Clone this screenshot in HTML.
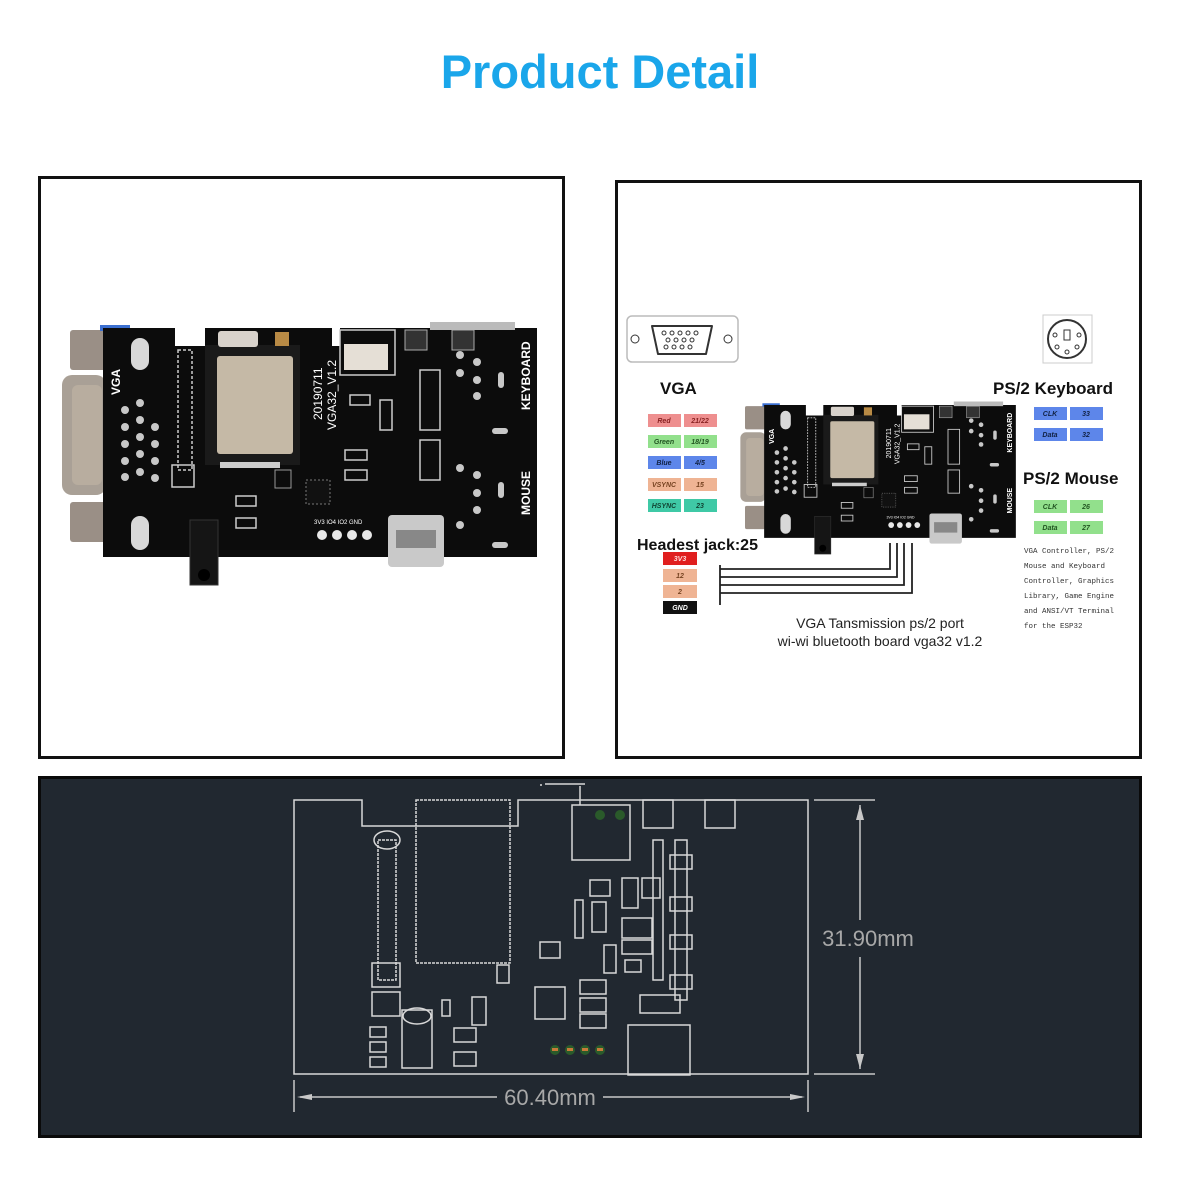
<!DOCTYPE html>
<html><head><meta charset="utf-8"><style>
html,body{margin:0;padding:0;background:#fff;}
svg{display:block}
text{font-family:"Liberation Sans",sans-serif}
text.mono{font-family:"Liberation Mono",monospace}
</style></head><body>
<svg width="1200" height="1200" viewBox="0 0 1200 1200" xmlns="http://www.w3.org/2000/svg">
<defs>
<g id="board">
  <rect x="70" y="330" width="36" height="40" fill="#9a8f86" rx="3"/>
  <rect x="62" y="375" width="44" height="120" fill="#a9a096" rx="10"/>
  <rect x="72" y="385" width="30" height="100" fill="#b8ad9f" rx="6"/>
  <rect x="70" y="502" width="36" height="40" fill="#9a8f86" rx="3"/>
  <rect x="100" y="325" width="30" height="6" fill="#3b6fd0"/>
  <path d="M103 328 H175 V346 H205 V328 H332 V346 H340 V328 H537 V557 H103 Z" fill="#0c0c0c"/>
  <rect x="131" y="338" width="18" height="32" rx="9" fill="#d8d8d8"/>
  <rect x="131" y="516" width="18" height="34" rx="9" fill="#d8d8d8"/>
  <g fill="#c8c8c8">
    <circle cx="125" cy="410" r="4"/><circle cx="140" cy="403" r="4"/><circle cx="125" cy="427" r="4"/><circle cx="140" cy="420" r="4"/><circle cx="155" cy="427" r="4"/>
    <circle cx="125" cy="444" r="4"/><circle cx="140" cy="437" r="4"/><circle cx="155" cy="444" r="4"/><circle cx="125" cy="461" r="4"/><circle cx="140" cy="454" r="4"/><circle cx="155" cy="461" r="4"/><circle cx="125" cy="477" r="4"/><circle cx="140" cy="472" r="4"/><circle cx="155" cy="478" r="4"/>
  </g>
  <text x="120" y="395" font-size="12" font-weight="bold" fill="#fff" transform="rotate(-90 120 395)">VGA</text>
  <rect x="178" y="350" width="14" height="120" fill="none" stroke="#ccc" stroke-width="1.5" stroke-dasharray="3 2"/>
  <rect x="172" y="465" width="22" height="22" fill="none" stroke="#ccc" stroke-width="1.5"/>
  <rect x="205" y="345" width="95" height="120" fill="#1a1a1a"/>
  <rect x="217" y="356" width="76" height="98" fill="#c5b9a6" rx="3"/>
  <rect x="220" y="462" width="60" height="6" fill="#ccc"/>
  <rect x="218" y="331" width="40" height="16" fill="#d8d2cb" rx="3"/>
  <rect x="275" y="332" width="14" height="14" fill="#b88a45"/>
  <text x="322" y="420" font-size="12" fill="#fff" transform="rotate(-90 322 420)">20190711</text>
  <text x="336" y="430" font-size="12" fill="#fff" transform="rotate(-90 336 430)">VGA32_V1.2</text>
  <rect x="340" y="330" width="55" height="45" fill="none" stroke="#ccc" stroke-width="1.5"/>
  <rect x="344" y="344" width="44" height="26" fill="#e5dfd6"/>
  <rect x="405" y="330" width="22" height="20" fill="#333" stroke="#aaa"/>
  <rect x="452" y="330" width="22" height="20" fill="#333" stroke="#aaa"/>
  <rect x="430" y="322" width="85" height="8" fill="#bbb"/>
  <rect x="306" y="480" width="24" height="24" fill="#111" stroke="#777" stroke-dasharray="2 2"/>
  <rect x="275" y="470" width="16" height="18" fill="none" stroke="#999"/>
  <g fill="none" stroke="#ccc" stroke-width="1.5">
    <rect x="350" y="395" width="20" height="10"/><rect x="345" y="450" width="22" height="10"/><rect x="345" y="470" width="22" height="10"/>
    <rect x="380" y="400" width="12" height="30"/><rect x="420" y="370" width="20" height="60"/><rect x="420" y="440" width="20" height="40"/>
    <rect x="236" y="496" width="20" height="10"/><rect x="236" y="518" width="20" height="10"/>
  </g>
  <g fill="#c8c8c8">
    <circle cx="460" cy="355" r="4"/><circle cx="477" cy="362" r="4"/><circle cx="460" cy="373" r="4"/><circle cx="477" cy="380" r="4"/><circle cx="477" cy="396" r="4"/>
    <circle cx="460" cy="468" r="4"/><circle cx="477" cy="475" r="4"/><circle cx="477" cy="493" r="4"/><circle cx="477" cy="510" r="4"/><circle cx="460" cy="525" r="4"/>
    <rect x="498" y="372" width="6" height="16" rx="3"/><rect x="498" y="482" width="6" height="16" rx="3"/>
    <rect x="492" y="428" width="16" height="6" rx="3"/><rect x="492" y="542" width="16" height="6" rx="3"/>
  </g>
  <text x="530" y="410" font-size="12" font-weight="bold" fill="#fff" transform="rotate(-90 530 410)">KEYBOARD</text>
  <text x="530" y="515" font-size="12" font-weight="bold" fill="#fff" transform="rotate(-90 530 515)">MOUSE</text>
  <text x="314" y="524" font-size="6" fill="#fff">3V3 IO4 IO2 GND</text>
  <g fill="#e8e8e8"><circle cx="322" cy="535" r="5"/><circle cx="337" cy="535" r="5"/><circle cx="352" cy="535" r="5"/><circle cx="367" cy="535" r="5"/></g>
  <rect x="190" y="520" width="28" height="65" fill="#151515" stroke="#333"/>
  <circle cx="204" cy="575" r="6" fill="#000"/>
  <rect x="388" y="515" width="56" height="52" fill="#c9c9c9" rx="4"/>
  <rect x="396" y="530" width="40" height="18" fill="#888"/>
</g>
</defs>

<text x="600" y="88" text-anchor="middle" font-size="47" font-weight="bold" fill="#1aa6ea">Product Detail</text>

<rect x="39.5" y="177.5" width="524" height="580" fill="#fff" stroke="#111" stroke-width="3"/>
<use href="#board"/>

<rect x="616.5" y="181.5" width="524" height="576" fill="#fff" stroke="#111" stroke-width="3"/>
<rect x="627" y="316" width="111" height="46" rx="5" fill="#fff" stroke="#bbb" stroke-width="1.5"/>
<circle cx="635" cy="339" r="4" fill="none" stroke="#333"/><circle cx="728" cy="339" r="4" fill="none" stroke="#333"/>
<path d="M652 326 H712 L706 354 H658 Z" fill="none" stroke="#333" stroke-width="2" stroke-linejoin="round"/>
<g fill="none" stroke="#333"><circle cx="664" cy="333" r="2"/><circle cx="672" cy="333" r="2"/><circle cx="680" cy="333" r="2"/><circle cx="688" cy="333" r="2"/><circle cx="696" cy="333" r="2"/><circle cx="668" cy="340" r="2"/><circle cx="676" cy="340" r="2"/><circle cx="684" cy="340" r="2"/><circle cx="692" cy="340" r="2"/><circle cx="666" cy="347" r="2"/><circle cx="674" cy="347" r="2"/><circle cx="682" cy="347" r="2"/><circle cx="690" cy="347" r="2"/></g>
<rect x="1043" y="315" width="49" height="48" fill="#fff" stroke="#ccc"/>
<circle cx="1067" cy="339" r="19" fill="none" stroke="#333" stroke-width="2"/>
<rect x="1064" y="330" width="6" height="10" fill="none" stroke="#333"/>
<g fill="none" stroke="#333"><circle cx="1055" cy="335" r="2"/><circle cx="1079" cy="335" r="2"/><circle cx="1057" cy="347" r="2"/><circle cx="1077" cy="347" r="2"/><circle cx="1067" cy="352" r="2"/></g>

<text x="660" y="394" font-size="17" font-weight="bold" fill="#111">VGA</text>
<text x="993" y="394" font-size="17" font-weight="bold" fill="#111">PS/2 Keyboard</text>
<text x="1023" y="484" font-size="17" font-weight="bold" fill="#111">PS/2 Mouse</text>
<text x="637" y="550" font-size="16" font-weight="bold" fill="#111">Headest jack:25</text>

<g font-size="7" font-style="italic" font-weight="bold" text-anchor="middle">
<rect x="648" y="414" width="33" height="13" fill="#ee8f8f"/><rect x="684" y="414" width="33" height="13" fill="#ee8f8f"/>
<text x="664" y="423" fill="#822">Red</text><text x="700" y="423" fill="#822">21/22</text>
<rect x="648" y="435" width="33" height="13" fill="#92e08c"/><rect x="684" y="435" width="33" height="13" fill="#92e08c"/>
<text x="664" y="444" fill="#252">Green</text><text x="700" y="444" fill="#252">18/19</text>
<rect x="648" y="456" width="33" height="13" fill="#5d86ea"/><rect x="684" y="456" width="33" height="13" fill="#5d86ea"/>
<text x="664" y="465" fill="#124">Blue</text><text x="700" y="465" fill="#124">4/5</text>
<rect x="648" y="478" width="33" height="13" fill="#efb494"/><rect x="684" y="478" width="33" height="13" fill="#efb494"/>
<text x="664" y="487" fill="#742">VSYNC</text><text x="700" y="487" fill="#742">15</text>
<rect x="648" y="499" width="33" height="13" fill="#3fc9a6"/><rect x="684" y="499" width="33" height="13" fill="#3fc9a6"/>
<text x="664" y="508" fill="#143">HSYNC</text><text x="700" y="508" fill="#143">23</text>

<rect x="1034" y="407" width="33" height="13" fill="#5d86ea"/><rect x="1070" y="407" width="33" height="13" fill="#5d86ea"/>
<text x="1050" y="416" fill="#124">CLK</text><text x="1086" y="416" fill="#124">33</text>
<rect x="1034" y="428" width="33" height="13" fill="#5d86ea"/><rect x="1070" y="428" width="33" height="13" fill="#5d86ea"/>
<text x="1050" y="437" fill="#124">Data</text><text x="1086" y="437" fill="#124">32</text>
<rect x="1034" y="500" width="33" height="13" fill="#92e08c"/><rect x="1070" y="500" width="33" height="13" fill="#92e08c"/>
<text x="1050" y="509" fill="#252">CLK</text><text x="1086" y="509" fill="#252">26</text>
<rect x="1034" y="521" width="33" height="13" fill="#92e08c"/><rect x="1070" y="521" width="33" height="13" fill="#92e08c"/>
<text x="1050" y="530" fill="#252">Data</text><text x="1086" y="530" fill="#252">27</text>

<rect x="663" y="552" width="34" height="13" fill="#e01f1f"/><text x="680" y="561" fill="#fdd">3V3</text>
<rect x="663" y="569" width="34" height="13" fill="#efb494"/><text x="680" y="578" fill="#742">12</text>
<rect x="663" y="585" width="34" height="13" fill="#efb494"/><text x="680" y="594" fill="#742">2</text>
<rect x="663" y="601" width="34" height="13" fill="#111"/><text x="680" y="610" fill="#fff">GND</text>
</g>

<g font-size="7.5" fill="#333">
<text class="mono" x="1024" y="553">VGA Controller, PS/2</text>
<text class="mono" x="1024" y="568">Mouse and Keyboard</text>
<text class="mono" x="1024" y="583">Controller, Graphics</text>
<text class="mono" x="1024" y="598">Library, Game Engine</text>
<text class="mono" x="1024" y="613">and ANSI/VT Terminal</text>
<text class="mono" x="1024" y="628">for the ESP32</text>
</g>

<g transform="translate(745,405) scale(0.58) translate(-70,-328)"><use href="#board"/></g>

<g fill="none" stroke="#222" stroke-width="1.8">
<path d="M720 565 V605"/>
<path d="M720 569 H890 V543"/><path d="M720 577 H897 V543"/><path d="M720 585 H904 V543"/><path d="M720 593 H912 V543"/>
</g>
<text x="880" y="628" text-anchor="middle" font-size="14" fill="#222">VGA Tansmission ps/2 port</text>
<text x="880" y="646" text-anchor="middle" font-size="14" fill="#222">wi-wi bluetooth board vga32 v1.2</text>

<rect x="39.5" y="777.5" width="1101" height="359" fill="#212830" stroke="#0a0a0a" stroke-width="3"/>
<g fill="none" stroke="#d8d8d8" stroke-width="1.5">
  <path d="M294 1074 V800 H362 V826 H518 V800 H808 V1074 Z"/>
  <rect x="416" y="800" width="94" height="163" stroke-dasharray="3 1"/>
  <path d="M540 785 H542 M545 784 H585"/>
  <path d="M580 786 V805"/>
  <rect x="572" y="805" width="58" height="55"/>
  <rect x="643" y="800" width="30" height="28"/><rect x="705" y="800" width="30" height="28"/>
  <rect x="378" y="840" width="18" height="140" stroke-dasharray="3 1"/>
  <ellipse cx="387" cy="840" rx="13" ry="9"/>
  <rect x="372" y="963" width="28" height="24"/><rect x="372" y="992" width="28" height="24"/>
  <rect x="402" y="1010" width="30" height="58"/><ellipse cx="417" cy="1016" rx="14" ry="8"/>
  <rect x="370" y="1027" width="16" height="10"/><rect x="370" y="1042" width="16" height="10"/><rect x="370" y="1057" width="16" height="10"/>
  <rect x="454" y="1028" width="22" height="14"/><rect x="454" y="1052" width="22" height="14"/>
  <rect x="442" y="1000" width="8" height="16"/><rect x="472" y="997" width="14" height="28"/>
  <rect x="535" y="987" width="30" height="32"/>
  <rect x="580" y="980" width="26" height="14"/><rect x="580" y="998" width="26" height="14"/><rect x="580" y="1014" width="26" height="14"/>
  <rect x="628" y="1025" width="62" height="50"/>
  <rect x="590" y="880" width="20" height="16"/><rect x="622" y="878" width="16" height="30"/><rect x="642" y="878" width="18" height="20"/>
  <rect x="592" y="902" width="14" height="30"/><rect x="575" y="900" width="8" height="38"/>
  <rect x="622" y="918" width="30" height="20"/><rect x="622" y="940" width="30" height="14"/>
  <rect x="604" y="945" width="12" height="28"/><rect x="625" y="960" width="16" height="12"/>
  <rect x="653" y="840" width="10" height="140"/>
  <rect x="670" y="855" width="22" height="14"/><rect x="670" y="897" width="22" height="14"/><rect x="670" y="935" width="22" height="14"/><rect x="670" y="975" width="22" height="14"/>
  <rect x="675" y="840" width="12" height="160"/>
  <rect x="640" y="995" width="40" height="18"/>
  <rect x="497" y="965" width="12" height="18"/><rect x="540" y="942" width="20" height="16"/>
</g>
<g fill="#2a5a2a"><circle cx="555" cy="1050" r="5"/><circle cx="570" cy="1050" r="5"/><circle cx="585" cy="1050" r="5"/><circle cx="600" cy="1050" r="5"/><circle cx="600" cy="815" r="5"/><circle cx="620" cy="815" r="5"/></g>
<g fill="#c87a3a"><rect x="552" y="1048" width="6" height="3"/><rect x="567" y="1048" width="6" height="3"/><rect x="582" y="1048" width="6" height="3"/><rect x="597" y="1048" width="6" height="3"/></g>
<g fill="none" stroke="#c8c8c8" stroke-width="1.5">
  <path d="M814 800 H875 M814 1074 H875 M860 805 V920 M860 957 V1069"/>
  <path d="M294 1080 V1112 M808 1080 V1112"/>
  <path d="M300 1097 H497 M603 1097 H802"/>
</g>
<g fill="#c8c8c8"><path d="M856 820 L860 805 L864 820 Z"/><path d="M856 1054 L860 1069 L864 1054 Z"/><path d="M312 1094 L297 1097 L312 1100 Z"/><path d="M790 1094 L805 1097 L790 1100 Z"/></g>
<text x="868" y="946" text-anchor="middle" font-size="22" fill="#a8a8a8">31.90mm</text>
<text x="550" y="1105" text-anchor="middle" font-size="22" fill="#a8a8a8">60.40mm</text>
</svg>
</body></html>
